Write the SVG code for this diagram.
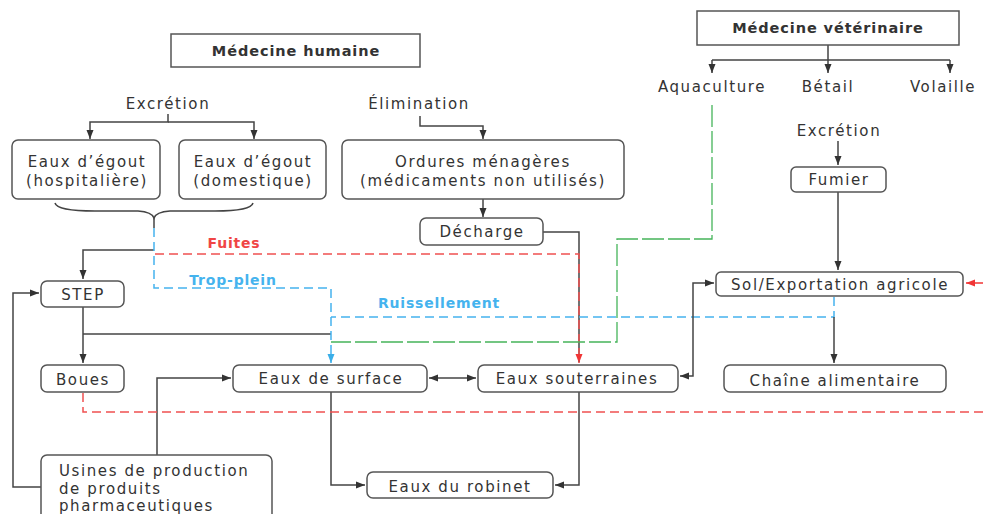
<svg xmlns="http://www.w3.org/2000/svg" width="983" height="514" viewBox="0 0 983 514">
<style>
.box{fill:#fff;stroke:#555;stroke-width:1.5}
.t{font-family:"DejaVu Sans",sans-serif;font-size:15px;fill:#333;letter-spacing:1.6px;text-anchor:middle}
.tl{text-anchor:start}
.b{font-weight:bold;font-size:14.5px;letter-spacing:0.9px}
.ln{fill:none;stroke:#444;stroke-width:1.5}
.red{fill:none;stroke:#f05050;stroke-width:1.5;stroke-dasharray:9 5}
.blue{fill:none;stroke:#45b3ee;stroke-width:1.5;stroke-dasharray:9 5}
.green{fill:none;stroke:#45b45a;stroke-width:1.3;stroke-dasharray:22 4}
.lr{font-family:"DejaVu Sans",sans-serif;font-size:14px;font-weight:bold;fill:#f04545;letter-spacing:0.8px;text-anchor:middle}
.lb{font-family:"DejaVu Sans",sans-serif;font-size:14px;font-weight:bold;fill:#45b3ee;letter-spacing:0.8px;text-anchor:middle}
</style>
<defs>
<marker id="a" markerUnits="userSpaceOnUse" markerWidth="10" markerHeight="8" refX="9" refY="4" orient="auto-start-reverse"><path d="M0,0.5 L9,4 L0,7.5 z" fill="#333"/></marker>
<marker id="ar" markerUnits="userSpaceOnUse" markerWidth="10" markerHeight="8" refX="9" refY="4" orient="auto"><path d="M0,0.5 L9,4 L0,7.5 z" fill="#f03535"/></marker>
<marker id="ab" markerUnits="userSpaceOnUse" markerWidth="10" markerHeight="8" refX="9" refY="4" orient="auto"><path d="M0,0.5 L9,4 L0,7.5 z" fill="#3aaee8"/></marker>
</defs>
<rect width="983" height="514" fill="#fff"/>

<g id="connectors">
<path class="ln" d="M168,114 V122 H90 V139" marker-end="url(#a)"/>
<path class="ln" d="M168,122 H254 V139" marker-end="url(#a)"/>
<path class="ln" d="M420,116 V126 H483 V139" marker-end="url(#a)"/>
<path class="ln" d="M483,199 V217" marker-end="url(#a)"/>
<path class="ln" d="M55,203 Q57,211 95,211 L138,211 Q152,212 154,218 Q156,212 170,211 L215,211 Q251,211 253,203"/>
<path class="ln" d="M154,218 V228"/>
<path class="ln" d="M154,250 H83 V279" marker-end="url(#a)"/>
<path class="ln" d="M83,307 V363" marker-end="url(#a)"/>
<path class="ln" d="M83,334 H331"/>
<path class="ln" d="M543,232 H579 V362"/>
<path class="red" d="M155,254 H579 V363" marker-end="url(#ar)"/>
<path class="blue" d="M154,228 V288 H331 V363" marker-end="url(#ab)"/>
<path class="blue" d="M834,297 V317 H331"/>
<path class="green" d="M712,105 V239 H617 V342 H331"/>
<path class="ln" d="M157,455 V378 H231" marker-end="url(#a)"/>
<path class="ln" d="M41,487 H13 V293 H39" marker-end="url(#a)"/>
<path class="ln" d="M331,392 V485 H365" marker-end="url(#a)"/>
<path class="ln" d="M579,392 V485 H555" marker-end="url(#a)"/>
<path class="ln" d="M429,378 H476" marker-start="url(#a)" marker-end="url(#a)"/>
<path class="ln" d="M680,376 H693 V283 H714" marker-start="url(#a)" marker-end="url(#a)"/>
<path class="ln" d="M828,45 V60 M712,60 H950"/>
<path class="ln" d="M712,60 V73" marker-end="url(#a)"/>
<path class="ln" d="M828,60 V73" marker-end="url(#a)"/>
<path class="ln" d="M950,60 V73" marker-end="url(#a)"/>
<path class="ln" d="M838,141 V165" marker-end="url(#a)"/>
<path class="ln" d="M838,192 V270" marker-end="url(#a)"/>
<path class="ln" d="M834,317 V363" marker-end="url(#a)"/>
<path fill="none" stroke="#f03535" stroke-width="1.5" d="M983,283 H966" marker-end="url(#ar)"/>
<path class="red" d="M83,393 V412 H983"/>
<text class="lr" x="234" y="248">Fuites</text>
<text class="lb" x="233" y="285">Trop-plein</text>
<text class="lb" x="439" y="308">Ruissellement</text>
</g>

<g id="medecine-humaine"><rect class="box" x="171" y="34" width="249" height="33"/><text class="t b" x="296" y="56">Médecine humaine</text></g>
<g id="medecine-veterinaire"><rect class="box" x="697" y="11" width="262" height="34"/><text class="t b" x="828" y="33">Médecine vétérinaire</text></g>
<g id="excretion-h"><text class="t" x="168" y="109">Excrétion</text></g>
<g id="elimination"><text class="t" x="419" y="109">Élimination</text></g>
<g id="aquaculture"><text class="t" x="712" y="92">Aquaculture</text></g>
<g id="betail"><text class="t" x="828" y="92">Bétail</text></g>
<g id="volaille"><text class="t" x="943" y="92">Volaille</text></g>
<g id="excretion-v"><text class="t" x="839" y="136">Excrétion</text></g>
<g id="egout-hosp"><rect class="box" x="12" y="140" width="148" height="59" rx="6"/><text class="t" x="87" y="167">Eaux d’égout</text><text class="t" x="87" y="186">(hospitalière)</text></g>
<g id="egout-dom"><rect class="box" x="179" y="140" width="147" height="59" rx="6"/><text class="t" x="253" y="167">Eaux d’égout</text><text class="t" x="253" y="186">(domestique)</text></g>
<g id="ordures"><rect class="box" x="342" y="140" width="282" height="59" rx="6"/><text class="t" x="483" y="167">Ordures ménagères</text><text class="t" x="483" y="186">(médicaments non utilisés)</text></g>
<g id="decharge"><rect class="box" x="420" y="218" width="123" height="27" rx="6"/><text class="t" x="482" y="237">Décharge</text></g>
<g id="fumier"><rect class="box" x="791" y="167" width="95" height="25" rx="5"/><text class="t" x="839" y="185">Fumier</text></g>
<g id="step"><rect class="box" x="41" y="281" width="83" height="26" rx="6"/><text class="t" x="83" y="300">STEP</text></g>
<g id="sol"><rect class="box" x="716" y="272" width="247" height="24" rx="5"/><text class="t" x="840" y="290">Sol/Exportation agricole</text></g>
<g id="boues"><rect class="box" x="41" y="365" width="83" height="27" rx="6"/><text class="t" x="83" y="385">Boues</text></g>
<g id="surface"><rect class="box" x="233" y="365" width="194" height="27" rx="6"/><text class="t" x="331" y="384">Eaux de surface</text></g>
<g id="souterraines"><rect class="box" x="478" y="365" width="200" height="27" rx="6"/><text class="t" x="577" y="384">Eaux souterraines</text></g>
<g id="chaine"><rect class="box" x="724" y="365" width="222" height="27" rx="6"/><text class="t" x="835" y="386">Chaîne alimentaire</text></g>
<g id="robinet"><rect class="box" x="367" y="472" width="186" height="26" rx="6"/><text class="t" x="460" y="492">Eaux du robinet</text></g>
<g id="usines"><rect class="box" x="41" y="455" width="231" height="80" rx="6"/><text class="t tl" x="59" y="476">Usines de production</text><text class="t tl" x="59" y="494">de produits</text><text class="t tl" x="59" y="511">pharmaceutiques</text></g>
</svg>
